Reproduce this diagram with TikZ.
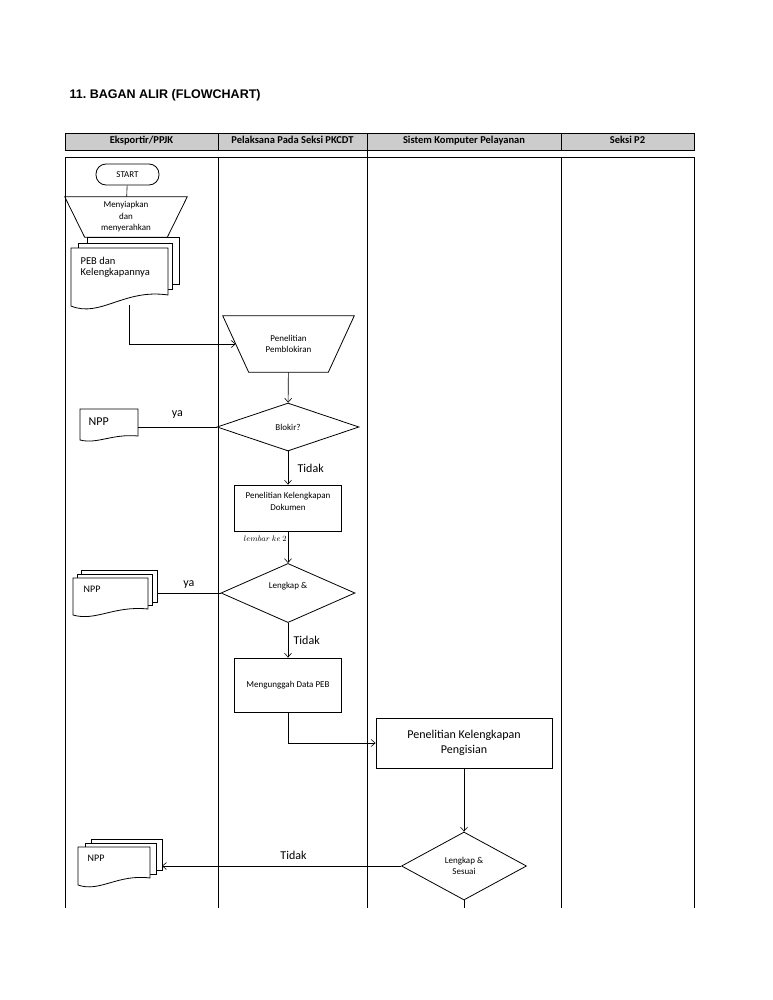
\documentclass[tikz,border=0pt]{standalone}
\usepackage{fontspec}
\setmainfont{Carlito}
\newfontfamily\arialfont{Liberation Sans}
\usetikzlibrary{shapes.geometric,arrows.meta,calc}

\definecolor{headgray}{gray}{0.8}

% stacked sheets of a document symbol
\newcommand{\docback}[4]{\draw[shp,fill=white] (#1,#2) rectangle (#3,#4);}
\newcommand{\docfront}[5]{%
  \draw[shp,fill=white] (#1,#2) -- (#3,#2) -- (#3,#4)
    .. controls ({#3-0.45*(#3-#1)},{#4-0.6*(#5-#4)}) and ({#1+0.3*(#3-#1)},{#5+1.1*(#5-#4)}) .. (#1,#5) -- cycle;}
% manual operation outline round a node, #2 = inset at the bottom
\newcommand{\manualop}[2]{%
  \draw[shp] (#1.north west) -- (#1.north east) -- ($(#1.south east)+(-#2,0)$) -- ($(#1.south west)+(#2,0)$) -- cycle;}

\tikzset{
  shp/.style={line width=0.8pt},
  smalltxt/.style={font=\fontsize{9}{11.5}\selectfont, align=center},
  bigtxt/.style={font=\fontsize{12}{15}\selectfont, align=center},
  lanehead/.style={font=\fontsize{10.5}{12}\selectfont\bfseries, text height=7.5pt, text depth=2.5pt},
  terminal/.style={shp, draw, rectangle, rounded corners=10pt, inner sep=0pt},
  manual/.style={rectangle, inner sep=0pt},
  decision/.style={shp, draw, diamond, inner sep=0pt},
  process/.style={shp, draw, rectangle, inner sep=0pt},
}

\begin{document}
\begin{tikzpicture}[x=1pt, y=-1pt, line width=0.6pt, >={Straight Barb[length=4pt,width=7pt]}]
  \useasboundingbox (0,0) rectangle (772,1000);

  % title and lanes
  \node[anchor=base west, font=\arialfont\bfseries\fontsize{12.5}{14}\selectfont] (title) at (66,99) {11.\ BAGAN ALIR (FLOWCHART)};
  \draw[line width=0.9pt, fill=headgray] (65,133) rectangle (694,150);
  \foreach \x in {218,367,561}
    \draw[line width=0.9pt] (\x,133) -- (\x,150);
  \node[lanehead] (hexp) at (141.5,141.5) {Eksportir/PPJK};
  \node[lanehead] (hpel) at (292.5,141.5) {Pelaksana Pada Seksi PKCDT};
  \node[lanehead] (hsis) at (464,141.5) {Sistem Komputer Pelayanan};
  \node[lanehead] (hp2)  at (627.5,141.5) {Seksi P2};
  \draw[line width=0.9pt] (367,150) -- (367,157);
  \draw[line width=0.9pt] (65,157) -- (694,157);
  \foreach \x in {65,218,367,561,694}
    \draw[line width=0.9pt] (\x,157) -- (\x,908);

  % documents
  \docback{87}{237}{179}{284}
  \docback{78}{243}{172}{289}
  \docfront{71}{248}{168}{295}{306}
  \docfront{80}{409}{138}{436}{440}
  \docback{81}{570}{157}{602}
  \docback{77}{574}{152}{605}
  \docfront{73}{578}{148}{609}{615}
  \docback{91}{839}{162}{870}
  \docback{85}{843}{156}{874}
  \docfront{78}{847}{150}{878}{885}

  \node[anchor=west, align=left, font=\fontsize{10.5}{11.5}\selectfont] (peb) at (77,267.5) {PEB dan\\Kelengkapannya};
  \node[anchor=west, font=\fontsize{12}{14}\selectfont] (npp1) at (85,422) {NPP};
  \node[anchor=west, font=\fontsize{10}{12}\selectfont] (npp2) at (80,589) {NPP};
  \node[anchor=west, font=\fontsize{10}{12}\selectfont] (npp3) at (84,858) {NPP};
  \coordinate (pebb) at (129,305);
  \coordinate (npp1e) at (138,427);
  \coordinate (npp2e) at (157,593);
  \coordinate (npp3e) at (162,866);
  \coordinate (endl) at (464,908);

  % flow symbols
  \node[terminal, smalltxt, minimum width=63pt, minimum height=21pt] (start) at (127.5,174.5) {START};
  \node[manual, smalltxt, minimum width=122pt, minimum height=40pt] (sia) at (126,217) {Menyiapkan\\dan\\menyerahkan};
  \manualop{sia}{20}
  \node[manual, smalltxt, minimum width=131pt, minimum height=56pt] (pp) at (288.5,344) {Penelitian\\Pemblokiran};
  \manualop{pp}{26}
  \node[decision, smalltxt, minimum width=142pt, minimum height=48pt] (blk) at (288,427) {Blokir?};
  \node[process, smalltxt, minimum width=107pt, minimum height=46pt] (pkd) at (288,508) {Penelitian Kelengkapan\\Dokumen\\[2pt]\mbox{}};
  \node[decision, smalltxt, minimum width=134pt, minimum height=59pt] (lk) at (288,593) {Lengkap \&\\[3pt]\mbox{}};
  \node[process, smalltxt, minimum width=107pt, minimum height=54pt] (mdp) at (288,685) {Mengunggah Data PEB};
  \node[process, bigtxt, minimum width=176pt, minimum height=50pt] (pkp) at (464,743) {Penelitian Kelengkapan\\Pengisian};
  \node[decision, smalltxt, minimum width=125pt, minimum height=68pt] (lks) at (464,866) {Lengkap \&\\Sesuai};

  % connectors
  \draw (start) -- (sia);
  \draw[->] (pebb) |- ($(pp.west)+(13,0)$);
  \draw[->] (pp) -- (blk);
  \draw (blk.west) -- node[above=5pt, bigtxt] {ya} (npp1e);
  \draw[->] (blk) -- node[right=6pt, bigtxt] {Tidak} (pkd);
  \draw[->] (pkd) -- node[left, pos=0.24, inner sep=1pt, font=\fontsize{8.5}{10}\selectfont] {$lembar\ ke\ 2$} (lk);
  \draw (lk.west) -- node[above=1pt, bigtxt] {ya} (npp2e);
  \draw[->] (lk) -- node[right=2pt, bigtxt] {Tidak} (mdp);
  \draw[->] (mdp.south) |- (pkp.west);
  \draw[->] (pkp) -- (lks);
  \draw[->] (lks.west) -- node[above=3pt, pos=0.45, bigtxt] {Tidak} (npp3e);
  \draw (lks.south) -- (endl);
\end{tikzpicture}
\end{document}
